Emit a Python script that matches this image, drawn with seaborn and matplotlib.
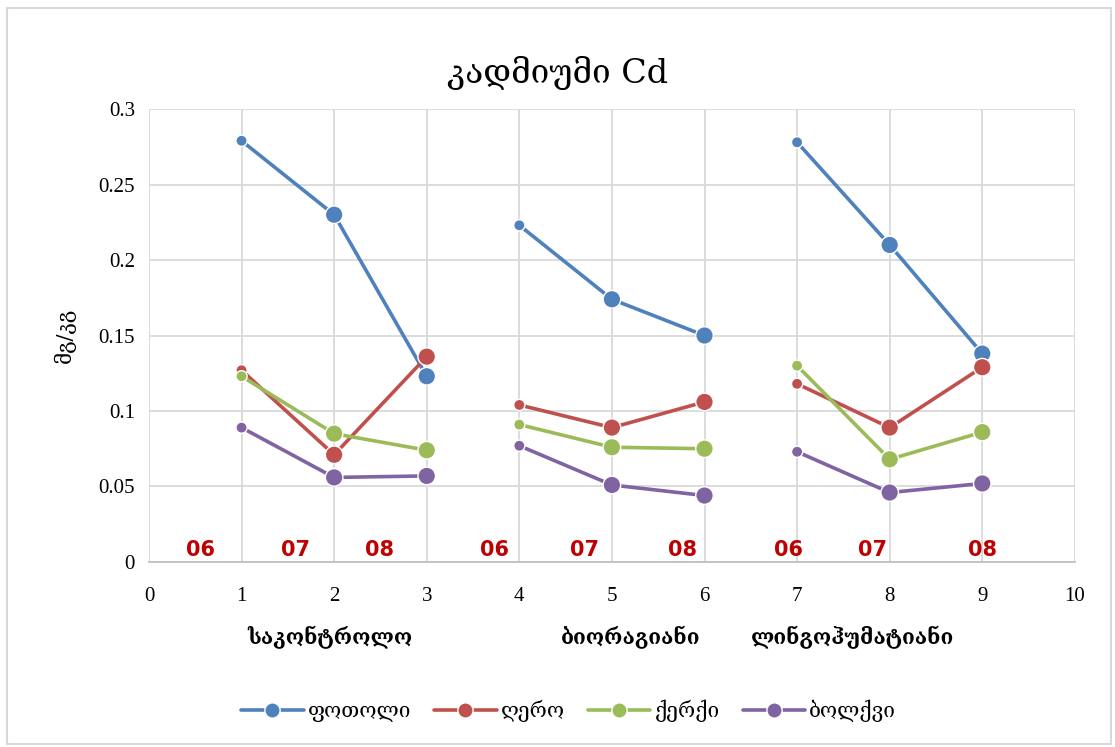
import numpy as np
import pandas as pd
import matplotlib
matplotlib.use("Agg")
import matplotlib.pyplot as plt
from matplotlib.lines import Line2D
from matplotlib.ticker import FuncFormatter
import seaborn as sns

# data
x_pos = [1, 2, 3, 4, 5, 6, 7, 8, 9]
groups = ["საკონტროლო"] * 3 + ["ბიორაგიანი"] * 3 + ["ლინგოჰუმატიანი"] * 3
series_names = ["ფოთოლი", "ღერო", "ქერქი", "ბოლქვი"]
fotoli = [0.279, 0.230, 0.123, 0.223, 0.174, 0.150, 0.278, 0.210, 0.138]
gero = [0.127, 0.071, 0.136, 0.104, 0.089, 0.106, 0.118, 0.089, 0.129]
kerki = [0.123, 0.085, 0.074, 0.091, 0.076, 0.075, 0.130, 0.068, 0.086]
bolkvi = [0.089, 0.056, 0.057, 0.077, 0.051, 0.044, 0.073, 0.046, 0.052]
month_labels = ["06", "07", "08", "06", "07", "08", "06", "07", "08"]
month_x = [0.56, 1.58, 2.49, 3.73, 4.70, 5.76, 6.91, 7.81, 9.0]
group_labels = ["საკონტროლო", "ბიორაგიანი", "ლინგოჰუმატიანი"]
group_label_x = [1.95, 5.2, 7.6]
colors = ["#4F81BD", "#C0504D", "#9BBB59", "#8064A2"]

rows = []
for name, vals in zip(series_names, [fotoli, gero, kerki, bolkvi]):
    for i, (x, v) in enumerate(zip(x_pos, vals)):
        rows.append({"x": x, "y": v, "series": name, "group": groups[i],
                     "first": "s" if i % 3 == 0 else "l"})
df = pd.DataFrame(rows)

sns.set_style("white")
serif = ["DejaVu Serif", "DejaVu Sans"]
plt.rcParams["font.family"] = serif
plt.rcParams["text.color"] = "black"
plt.rcParams["xtick.color"] = "black"
plt.rcParams["ytick.color"] = "black"

fig = plt.figure(figsize=(11.15, 7.47), dpi=100)
ax = fig.add_axes([0.1336, 0.2477, 0.964 - 0.1336, 0.854 - 0.2477])
palette = dict(zip(series_names, colors))

sns.lineplot(data=df, x="x", y="y", hue="series", units="group", estimator=None,
             palette=palette, linewidth=2.6, legend=False, ax=ax, zorder=3)
sns.scatterplot(data=df, x="x", y="y", hue="series", size="first",
                sizes={"s": 65, "l": 160}, palette=palette, edgecolor="white",
                linewidth=1, legend=False, ax=ax, zorder=4)

ax.set_xlim(0, 10)
ax.set_ylim(0, 0.3)
ax.set_xticks(range(0, 11))
ax.set_yticks(np.arange(0, 0.301, 0.05))
ax.yaxis.set_major_formatter(FuncFormatter(lambda v, p: f"{v:g}"))
ax.grid(True, color="#D9D9D9", linewidth=1.3)
ax.set_axisbelow(True)
for s in ["top", "right", "left"]:
    ax.spines[s].set_visible(False)
ax.spines["bottom"].set_color("#BFBFBF")
ax.spines["bottom"].set_linewidth(1.3)
ax.tick_params(axis="x", length=6, color="#BFBFBF", labelcolor="black", pad=12, labelsize=15)
ax.tick_params(axis="y", length=0, pad=10, labelcolor="black", labelsize=15)
for t in ax.get_xticklabels() + ax.get_yticklabels():
    t.set_family(["Liberation Serif", "DejaVu Sans"])
ax.set_xlabel("")
ax.set_ylabel("მგ/კგ", fontsize=15, labelpad=16, color="black")

for mx, ml in zip(month_x, month_labels):
    ax.text(mx, 0.001, ml, color="#C00000", fontsize=15, fontweight="bold",
            ha="center", va="bottom", family="DejaVu Sans")
for gx, gl in zip(group_label_x, group_labels):
    ax.text(gx, -0.05, gl, fontsize=15, fontweight="bold", ha="center",
            va="center", transform=ax.transData, clip_on=False)

fig.suptitle("კადმიუმი Cd", y=0.925, fontsize=24, color="black")

handles = [Line2D([0], [0], color=c, linewidth=2.6, marker="o", markersize=11,
                  markeredgecolor="white") for c in colors]
fig.legend(handles, series_names, loc="center", bbox_to_anchor=(0.51, 0.048),
           ncol=4, frameon=False, fontsize=15, handlelength=3, columnspacing=1.1,
           handletextpad=0.2)

fig.patches.append(plt.Rectangle((0.006, 0.004), 0.99, 0.985, transform=fig.transFigure,
                                 fill=False, edgecolor="#D9D9D9", linewidth=1.5))
fig.savefig("out.png", dpi=100)
